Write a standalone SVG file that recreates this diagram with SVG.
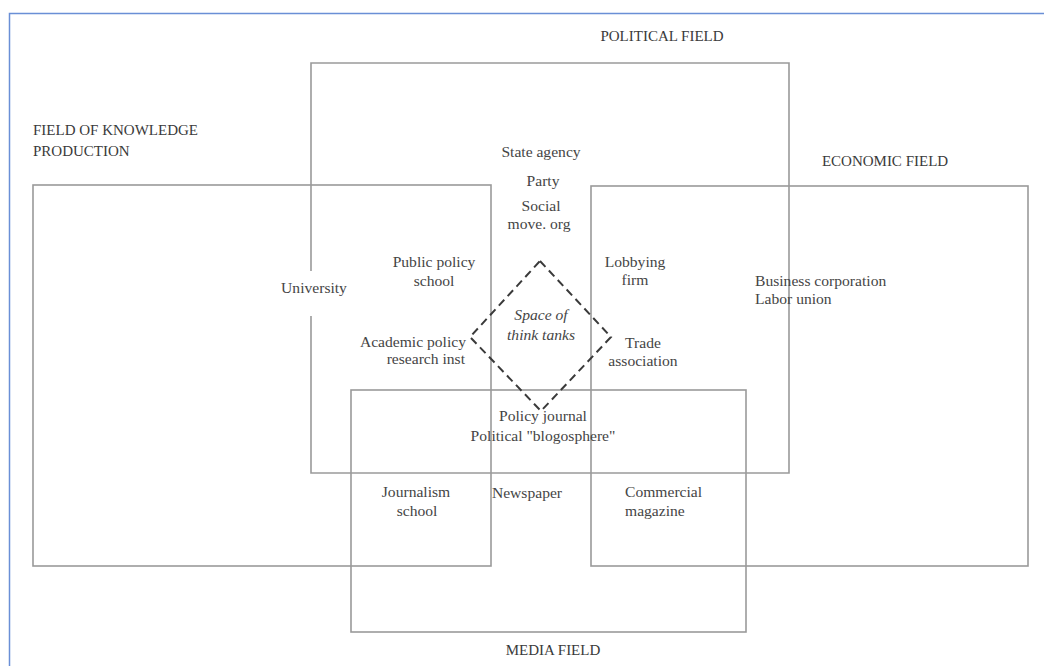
<svg xmlns="http://www.w3.org/2000/svg" width="1044" height="666" viewBox="0 0 1044 666">
<style>
.bg{fill:#ffffff}
.frame{fill:none;stroke:#6a8fd6;stroke-width:1.5}
.field{fill:none;stroke:#9a9a9a;stroke-width:1.6}
.t{font-family:"Liberation Serif","DejaVu Serif",serif;font-size:15.6px;fill:#454545}
.c{text-anchor:middle}
.e{text-anchor:end}
.title{font-family:"Liberation Serif","DejaVu Serif",serif;font-size:15px;fill:#3a3a3a}
.it{font-style:italic}
.diamond{fill:none;stroke:#3a3a3a;stroke-width:2;stroke-dasharray:8 5}
</style>
<rect class="bg" x="0" y="0" width="1044" height="666"/>
<path class="frame" d="M1044 13.5H9.5V666"/>

<g id="field-political">
<path class="field" d="M311 271V63H789V473H311V316"/>
<text class="title c" x="662" y="41">POLITICAL FIELD</text>
</g>
<g id="field-knowledge">
<rect class="field" x="33" y="185" width="458" height="381"/>
<text class="title" x="33" y="135">FIELD OF KNOWLEDGE</text>
<text class="title" x="33" y="156">PRODUCTION</text>
</g>
<g id="field-economic">
<rect class="field" x="591" y="186" width="437" height="380"/>
<text class="title c" x="885" y="166">ECONOMIC FIELD</text>
</g>
<g id="field-media">
<rect class="field" x="351" y="390" width="395" height="242"/>
<text class="title c" x="553" y="655">MEDIA FIELD</text>
</g>

<g id="space-of-think-tanks">
<path class="diamond" d="M540 261L611 337L541 411L470 337Z"/>
<text class="t c it" x="541" y="320">Space of</text>
<text class="t c it" x="541" y="340">think tanks</text>
</g>

<g id="state-agency"><text class="t c" x="541" y="157">State agency</text></g>
<g id="party"><text class="t c" x="543" y="186">Party</text></g>
<g id="social-move-org">
<text class="t c" x="541" y="211">Social</text>
<text class="t c" x="539" y="229">move. org</text>
</g>
<g id="university"><text class="t c" x="314" y="293">University</text></g>
<g id="public-policy-school">
<text class="t c" x="434" y="267">Public policy</text>
<text class="t c" x="434" y="286">school</text>
</g>
<g id="academic-policy-research-inst">
<text class="t e" x="466" y="347">Academic policy</text>
<text class="t e" x="465" y="364">research inst</text>
</g>
<g id="lobbying-firm">
<text class="t c" x="635" y="267">Lobbying</text>
<text class="t c" x="635" y="285">firm</text>
</g>
<g id="trade-association">
<text class="t c" x="643" y="348">Trade</text>
<text class="t c" x="643" y="366">association</text>
</g>
<g id="business-labor">
<text class="t" x="755" y="286">Business corporation</text>
<text class="t" x="755" y="304">Labor union</text>
</g>
<g id="policy-journal-blogosphere">
<text class="t c" x="543" y="421">Policy journal</text>
<text class="t c" x="543" y="441">Political "blogosphere"</text>
</g>
<g id="journalism-school">
<text class="t c" x="416" y="497">Journalism</text>
<text class="t c" x="417" y="516">school</text>
</g>
<g id="newspaper"><text class="t c" x="527" y="498">Newspaper</text></g>
<g id="commercial-magazine">
<text class="t" x="625" y="497">Commercial</text>
<text class="t" x="625" y="516">magazine</text>
</g>
<g id="connectors"></g>
</svg>
